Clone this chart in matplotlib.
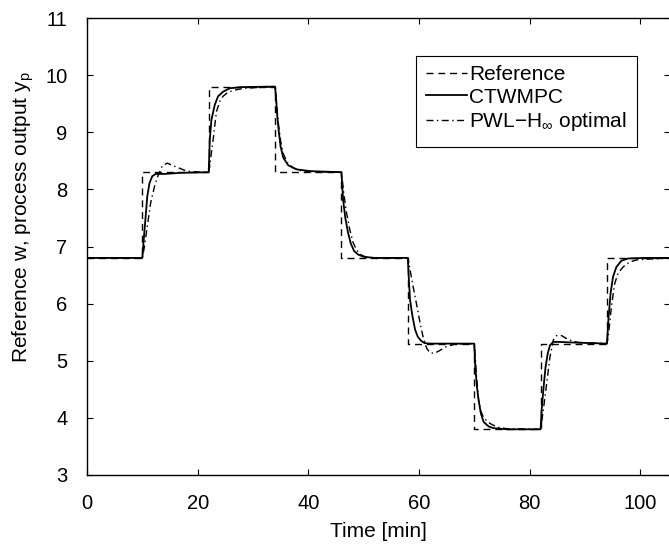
import numpy as np
import matplotlib
matplotlib.use("Agg")
import matplotlib.pyplot as plt
from matplotlib.patches import Rectangle

plt.rcParams['font.family'] = ['Liberation Sans', 'DejaVu Sans']
plt.rcParams['mathtext.fontset'] = 'custom'
plt.rcParams['mathtext.rm'] = 'Liberation Sans'
plt.rcParams['mathtext.it'] = 'Liberation Sans:italic'
plt.rcParams['mathtext.fallback'] = 'cm'

# reference setpoint: switching times and levels
ref_t = [0, 10, 22, 34, 46, 58, 70, 82, 94, 106]
ref_w = [6.8, 8.3, 9.8, 8.3, 6.8, 5.3, 3.8, 5.3, 6.8, 6.8]

# CTWMPC closed loop output
ctwmpc_t = [0, 10, 10.3, 10.6, 10.9, 11.3, 11.8, 12.4, 14, 17, 22,
            22.2, 22.5, 23.1, 23.7, 24.6, 25.8, 27.9, 34,
            34.2, 34.4, 34.7, 35.0, 35.5, 36.4, 37.9, 40.3, 46,
            46.3, 46.7, 47.2, 47.7, 48.3, 49, 50, 52, 58,
            58.2, 58.4, 58.8, 59.3, 59.8, 60.4, 61, 62, 70,
            70.2, 70.5, 70.8, 71.2, 71.7, 72.6, 73.5, 75.9, 82,
            82.2, 82.5, 82.9, 83.3, 83.7, 84.3, 85.2, 87.6, 94,
            94.3, 94.66, 95.1, 95.7, 96.6, 97.8, 100.8, 106]
ctwmpc_y = [6.8, 6.8, 7.17, 7.52, 7.88, 8.11, 8.23, 8.27, 8.27, 8.29, 8.3,
            8.87, 9.22, 9.48, 9.63, 9.71, 9.77, 9.79, 9.8,
            9.57, 9.28, 8.99, 8.75, 8.55, 8.42, 8.35, 8.32, 8.3,
            7.82, 7.5, 7.24, 7.05, 6.92, 6.86, 6.82, 6.8, 6.8,
            6.4, 6.07, 5.8, 5.55, 5.42, 5.35, 5.31, 5.3, 5.3,
            4.89, 4.54, 4.31, 4.08, 3.93, 3.85, 3.82, 3.8, 3.8,
            4.14, 4.49, 4.89, 5.13, 5.27, 5.33, 5.33, 5.32, 5.3,
            5.77, 6.18, 6.47, 6.64, 6.75, 6.79, 6.8, 6.8]

# PWL-Hinf optimal controller output
pwl_t = [0, 10, 10.3, 10.9, 11.5, 12.2, 12.8, 13.6, 14.5, 15.7, 17.5, 18.7, 22,
         22.3, 22.8, 23.4, 24.0, 24.6, 25.5, 26.7, 28.5, 34,
         34.3, 34.6, 35.0, 35.5, 36.2, 37.2, 38.5, 40.5, 46,
         46.4, 46.9, 47.5, 48.1, 48.8, 49.6, 50.6, 52, 58,
         58.1, 58.4, 58.8, 59.3, 59.8, 60.2, 60.8, 61.4, 62, 62.8, 63.8, 65, 66.5, 70,
         70.1, 70.4, 70.8, 71.2, 71.7, 72.9, 74.1, 75.9, 82,
         82.1, 82.5, 83.1, 83.7, 84.3, 84.9, 85.8, 87.0, 88.8, 94,
         94.3, 94.8, 95.4, 96.0, 96.9, 98.1, 99.6, 106]
pwl_y = [6.8, 6.8, 6.95, 7.35, 7.76, 8.05, 8.23, 8.41, 8.46, 8.41, 8.34, 8.31, 8.3,
         8.5, 8.87, 9.36, 9.54, 9.63, 9.70, 9.74, 9.77, 9.8,
         9.45, 9.15, 8.85, 8.62, 8.47, 8.38, 8.33, 8.31, 8.3,
         7.95, 7.6, 7.3, 7.07, 6.93, 6.85, 6.81, 6.8, 6.8,
         6.75, 6.6, 6.38, 6.13, 5.88, 5.67, 5.4, 5.22, 5.14, 5.13, 5.18, 5.25, 5.29, 5.3,
         5.2, 4.75, 4.3, 4.12, 4.0, 3.9, 3.84, 3.81, 3.8,
         3.85, 4.14, 4.6, 5.07, 5.36, 5.44, 5.44, 5.37, 5.32, 5.3,
         5.48, 5.94, 6.35, 6.53, 6.64, 6.73, 6.77, 6.8]

W, H = 669, 546
fig = plt.figure(figsize=(W / 100, H / 100), dpi=100)
ax = fig.add_axes([87 / W, 1 - 475 / H, (670 - 87) / W, (475 - 18) / H])

ax.plot(ref_t, ref_w, drawstyle='steps-post', color='k', lw=1.0,
        dashes=(5, 3.5), label='Reference')
ax.plot(ctwmpc_t, ctwmpc_y, color='k', lw=1.3, label='CTWMPC')
ax.plot(pwl_t, pwl_y, color='k', lw=1.0, dashes=(5, 2.5, 1, 2.5),
        label=r'PWL$-$H$_{\infty}$ optimal')

ax.set_xlim(0, 105.4)
ax.set_ylim(3, 11)
ax.set_xticks(np.arange(0, 101, 20))
ax.set_yticks(np.arange(3, 12, 1))
ax.tick_params(direction='in', top=True, right=True, length=4, width=0.8,
               labelsize=14.5, pad=14)
for s in ax.spines.values():
    s.set_linewidth(1.0)

ax.set_xlabel('Time [min]', fontsize=15, labelpad=6)
ax.set_ylabel(r'Reference w, process output y$_\mathrm{p}$', fontsize=15)
ax.yaxis.set_label_coords(-0.088, 0.565)

# legend box drawn separately so it can be taller than the entries
box = Rectangle((416 / W, 1 - 147 / H), (637 - 416) / W, (147 - 56) / H,
                transform=fig.transFigure, facecolor='white', edgecolor='k',
                lw=0.8, clip_on=False, zorder=4.5)
ax.add_patch(box)
leg = ax.legend(loc='upper left', bbox_to_anchor=(426 / W, 1 - 65 / H),
                bbox_transform=fig.transFigure, fontsize=15,
                handlelength=1.97, handletextpad=0.1, labelspacing=0.17,
                borderpad=0, borderaxespad=0, frameon=False)
leg.set_zorder(6)

fig.savefig('out.png', dpi=100)
